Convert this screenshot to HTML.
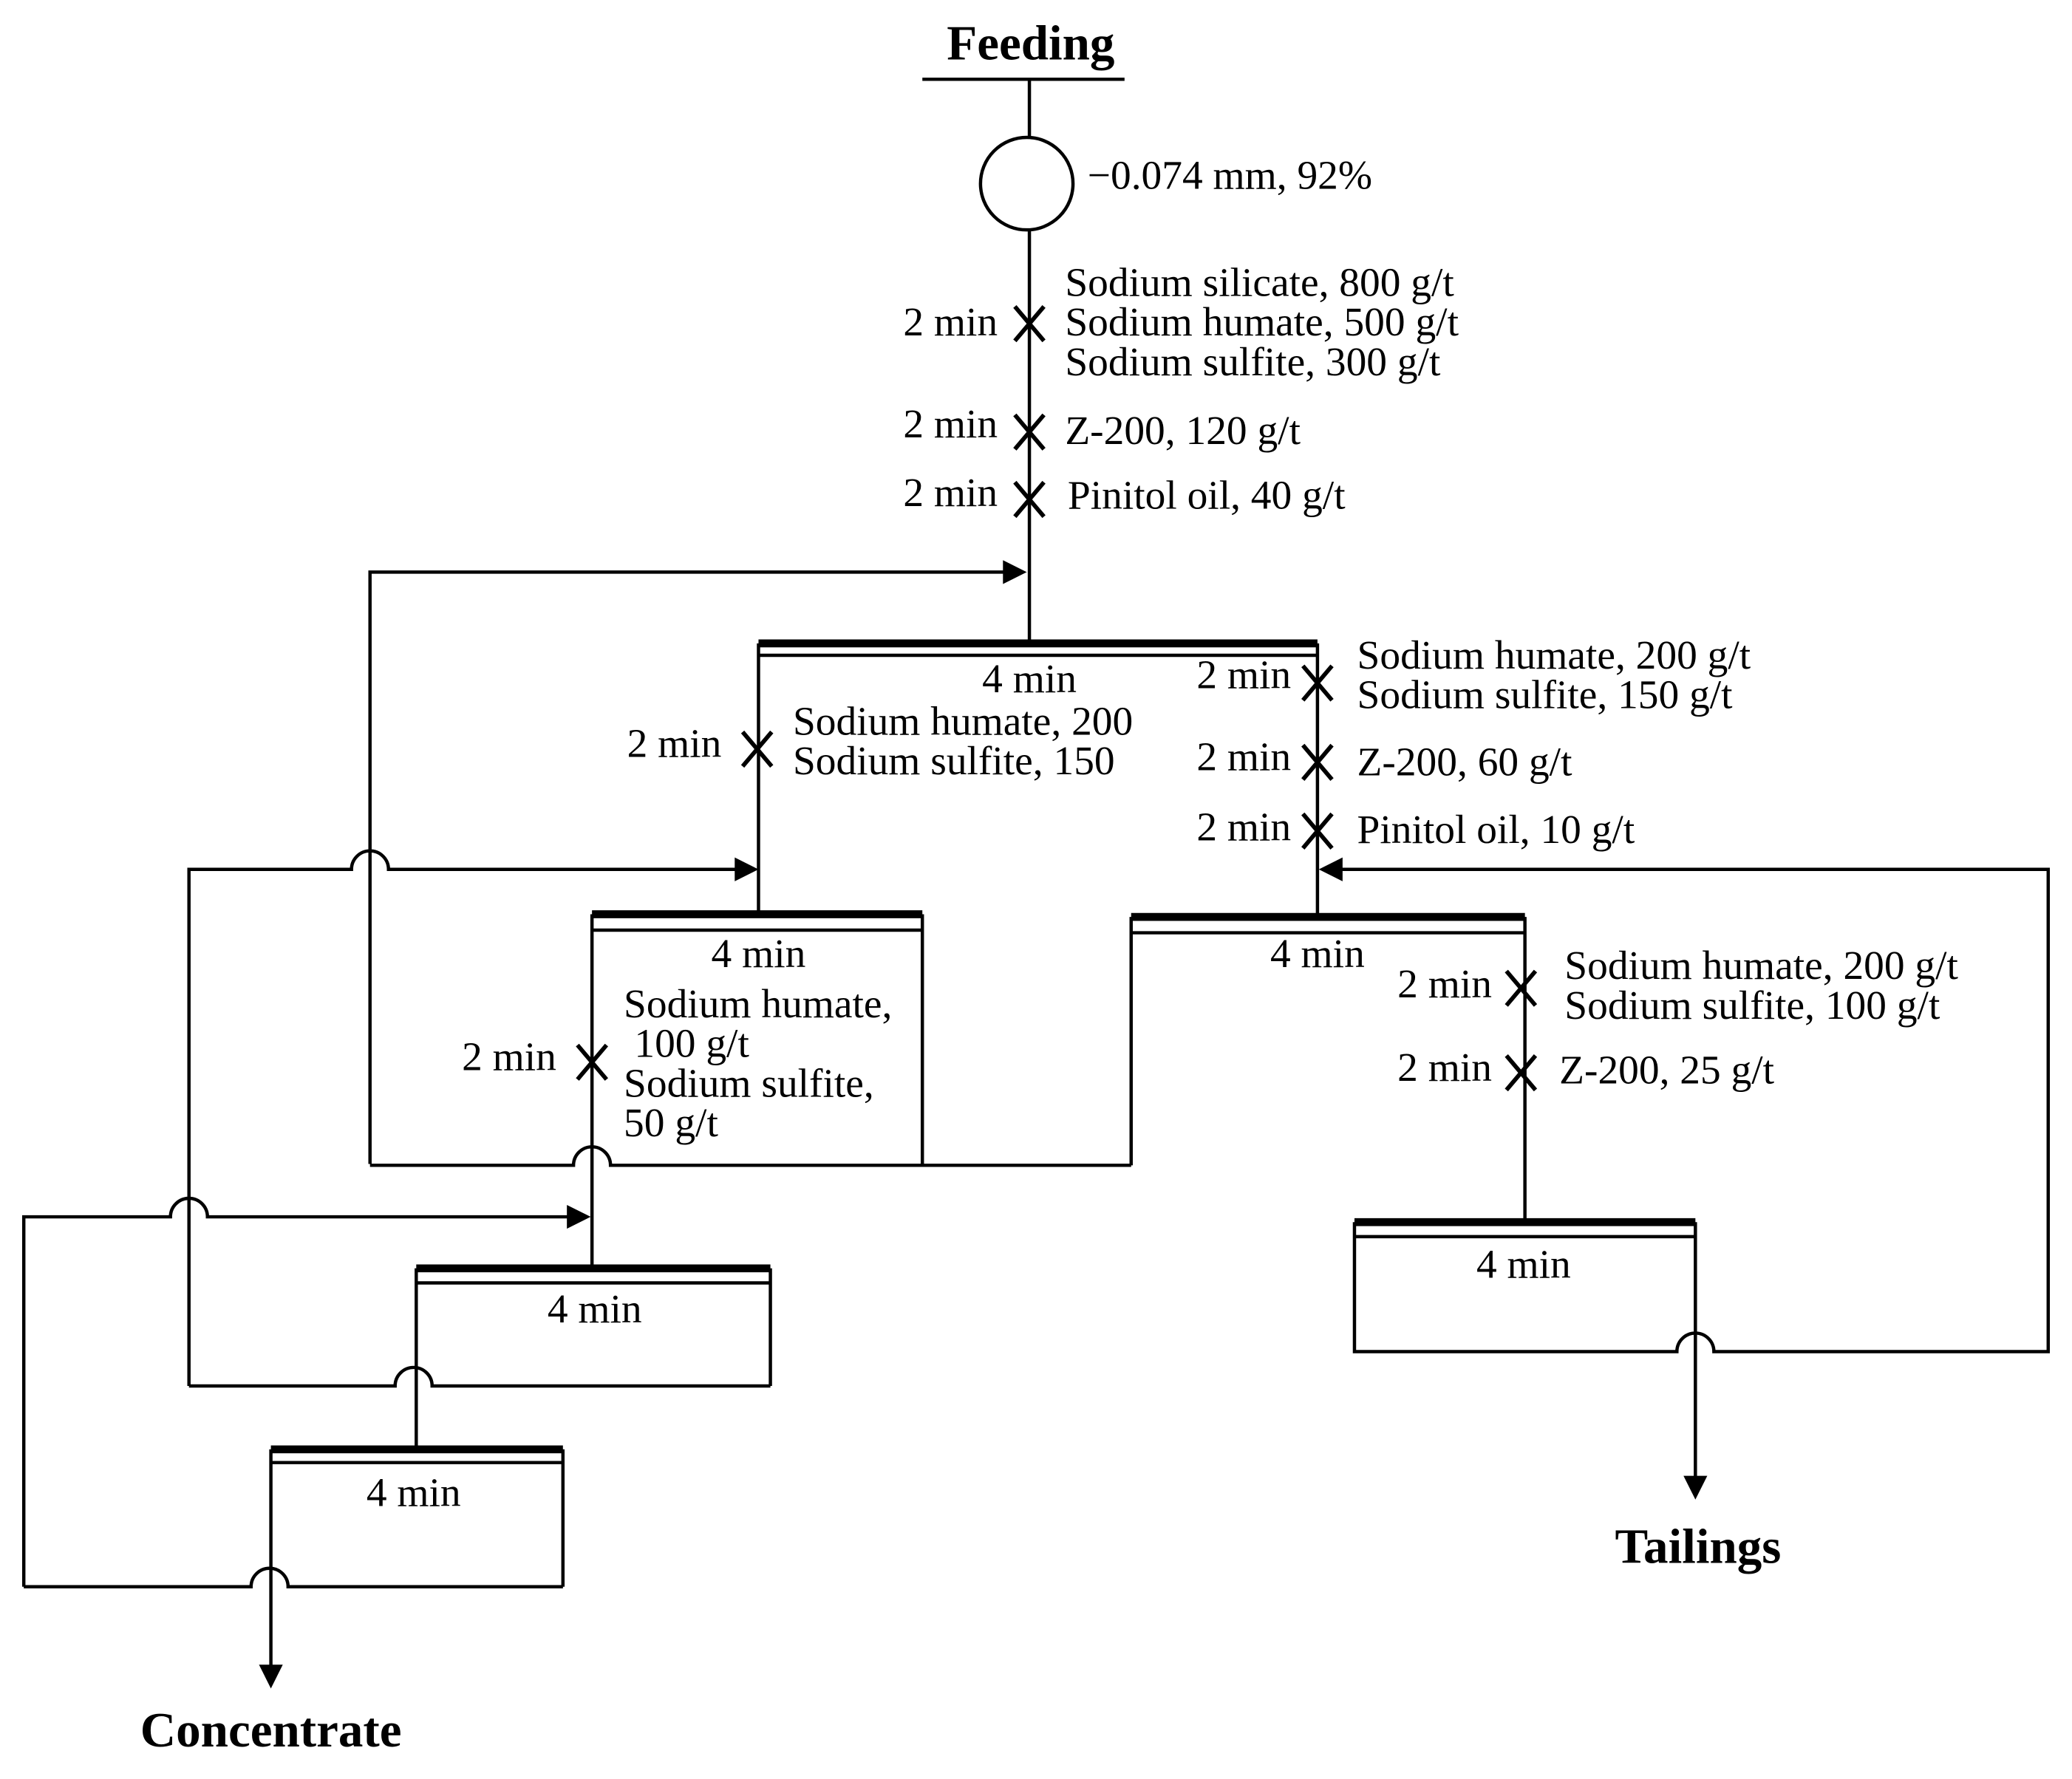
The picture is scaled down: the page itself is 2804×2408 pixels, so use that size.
<!DOCTYPE html>
<html><head><meta charset="utf-8"><style>
html,body{margin:0;padding:0;background:#fff;}
svg{display:block;}
text{font-family:"Liberation Serif",serif;font-size:31px;fill:#000;}
.b{font-weight:bold;font-size:37.5px;}
</style></head><body>
<svg width="2804" height="2408" viewBox="0 0 1568 1346.5" preserveAspectRatio="none" xmlns="http://www.w3.org/2000/svg">
<g stroke="#000" stroke-width="2.5" fill="none">
<line x1="698" y1="60" x2="851" y2="60"/>
<line x1="779" y1="60" x2="779" y2="104"/>
<circle cx="777" cy="139" r="35"/>
<line x1="779" y1="174" x2="779" y2="487"/>
<path d="M280,881 L280,433 L762,433"/>
<line x1="574" y1="487" x2="997" y2="487" stroke-width="6"/>
<line x1="574" y1="496" x2="997" y2="496"/>
<line x1="574" y1="487" x2="574" y2="692"/>
<line x1="997" y1="487" x2="997" y2="694"/>
<path d="M143,1049 L143,658 L266,658 A14,14 0 0 1 294,658 L558,658"/>
<path d="M1013,658 L1550,658 L1550,1023 L1297,1023 A14,14 0 0 0 1269,1023 L1025,1023 L1025,925"/>
<line x1="448" y1="692" x2="698" y2="692" stroke-width="6"/>
<line x1="448" y1="704" x2="698" y2="704"/>
<line x1="448" y1="692" x2="448" y2="960"/>
<line x1="698" y1="692" x2="698" y2="882"/>
<path d="M280,882 L434,882 A14,14 0 0 1 462,882 L856,882"/>
<line x1="856" y1="694" x2="1154" y2="694" stroke-width="6"/>
<line x1="856" y1="706" x2="1154" y2="706"/>
<line x1="856" y1="694" x2="856" y2="882"/>
<line x1="1154" y1="694" x2="1154" y2="925"/>
<line x1="1025" y1="925" x2="1283" y2="925" stroke-width="6"/>
<line x1="1025" y1="936" x2="1283" y2="936"/>
<line x1="1283" y1="925" x2="1283" y2="1120"/>
<path d="M18,1201 L18,921 L129,921 A14,14 0 0 1 157,921 L432,921"/>
<line x1="315" y1="960" x2="583" y2="960" stroke-width="6"/>
<line x1="315" y1="971" x2="583" y2="971"/>
<line x1="315" y1="960" x2="315" y2="1097"/>
<line x1="583" y1="960" x2="583" y2="1049"/>
<path d="M143,1049 L299,1049 A14,14 0 0 1 327,1049 L583,1049"/>
<line x1="205" y1="1097" x2="426" y2="1097" stroke-width="6"/>
<line x1="205" y1="1107" x2="426" y2="1107"/>
<line x1="205" y1="1097" x2="205" y2="1263"/>
<line x1="426" y1="1097" x2="426" y2="1201"/>
<path d="M18,1201 L190,1201 A14,14 0 0 1 218,1201 L426,1201"/>
</g>
<g fill="#000">
<path d="M777,433 L759,424 L759,442 z"/>
<path d="M574,658 L556,649 L556,667 z"/>
<path d="M998,658 L1016,649 L1016,667 z"/>
<path d="M447,921 L429,912 L429,930 z"/>
<path d="M1283,1135 L1274,1117 L1292,1117 z"/>
<path d="M205,1278 L196,1260 L214,1260 z"/>
</g>
<g stroke="#000" stroke-width="3.2">
<path d="M768,232 l22,26 M790,232 l-22,26"/>
<path d="M768,314 l22,26 M790,314 l-22,26"/>
<path d="M768,365 l22,26 M790,365 l-22,26"/>
<path d="M562,554 l22,26 M584,554 l-22,26"/>
<path d="M986,504 l22,26 M1008,504 l-22,26"/>
<path d="M986,564 l22,26 M1008,564 l-22,26"/>
<path d="M986,616 l22,26 M1008,616 l-22,26"/>
<path d="M1140,735 l22,26 M1162,735 l-22,26"/>
<path d="M1140,799 l22,26 M1162,799 l-22,26"/>
<path d="M437,791 l22,26 M459,791 l-22,26"/>
</g>
<text class="b" x="780" y="45" text-anchor="middle">Feeding</text>
<text x="823" y="143">−0.074 mm, 92%</text>
<text x="755" y="254" text-anchor="end">2 min</text>
<text x="755" y="331" text-anchor="end">2 min</text>
<text x="755" y="383" text-anchor="end">2 min</text>
<text x="806" y="224">Sodium silicate, 800 g/t</text>
<text x="806" y="254">Sodium humate, 500 g/t</text>
<text x="806" y="284">Sodium sulfite, 300 g/t</text>
<text x="806" y="336">Z-200, 120 g/t</text>
<text x="808" y="385">Pinitol oil, 40 g/t</text>
<text x="779" y="524" text-anchor="middle">4 min</text>
<text x="546" y="573" text-anchor="end">2 min</text>
<text x="600" y="556">Sodium humate, 200</text>
<text x="600" y="586">Sodium sulfite, 150</text>
<text x="977" y="521" text-anchor="end">2 min</text>
<text x="977" y="583" text-anchor="end">2 min</text>
<text x="977" y="636" text-anchor="end">2 min</text>
<text x="1027" y="506">Sodium humate, 200 g/t</text>
<text x="1027" y="536">Sodium sulfite, 150 g/t</text>
<text x="1027" y="587">Z-200, 60 g/t</text>
<text x="1027" y="638">Pinitol oil, 10 g/t</text>
<text x="574" y="732" text-anchor="middle">4 min</text>
<text x="421" y="810" text-anchor="end">2 min</text>
<text x="472" y="770">Sodium humate,</text>
<text x="480" y="800">100 g/t</text>
<text x="472" y="830">Sodium sulfite,</text>
<text x="472" y="860">50 g/t</text>
<text x="997" y="732" text-anchor="middle">4 min</text>
<text x="1129" y="755" text-anchor="end">2 min</text>
<text x="1129" y="818" text-anchor="end">2 min</text>
<text x="1184" y="741">Sodium humate, 200 g/t</text>
<text x="1184" y="771">Sodium sulfite, 100 g/t</text>
<text x="1180" y="820">Z-200, 25 g/t</text>
<text x="1153" y="967" text-anchor="middle">4 min</text>
<text x="450" y="1001" text-anchor="middle">4 min</text>
<text x="313" y="1140" text-anchor="middle">4 min</text>
<text class="b" x="1285" y="1183" text-anchor="middle">Tailings</text>
<text class="b" x="205" y="1322" text-anchor="middle">Concentrate</text>
</svg>
</body></html>
